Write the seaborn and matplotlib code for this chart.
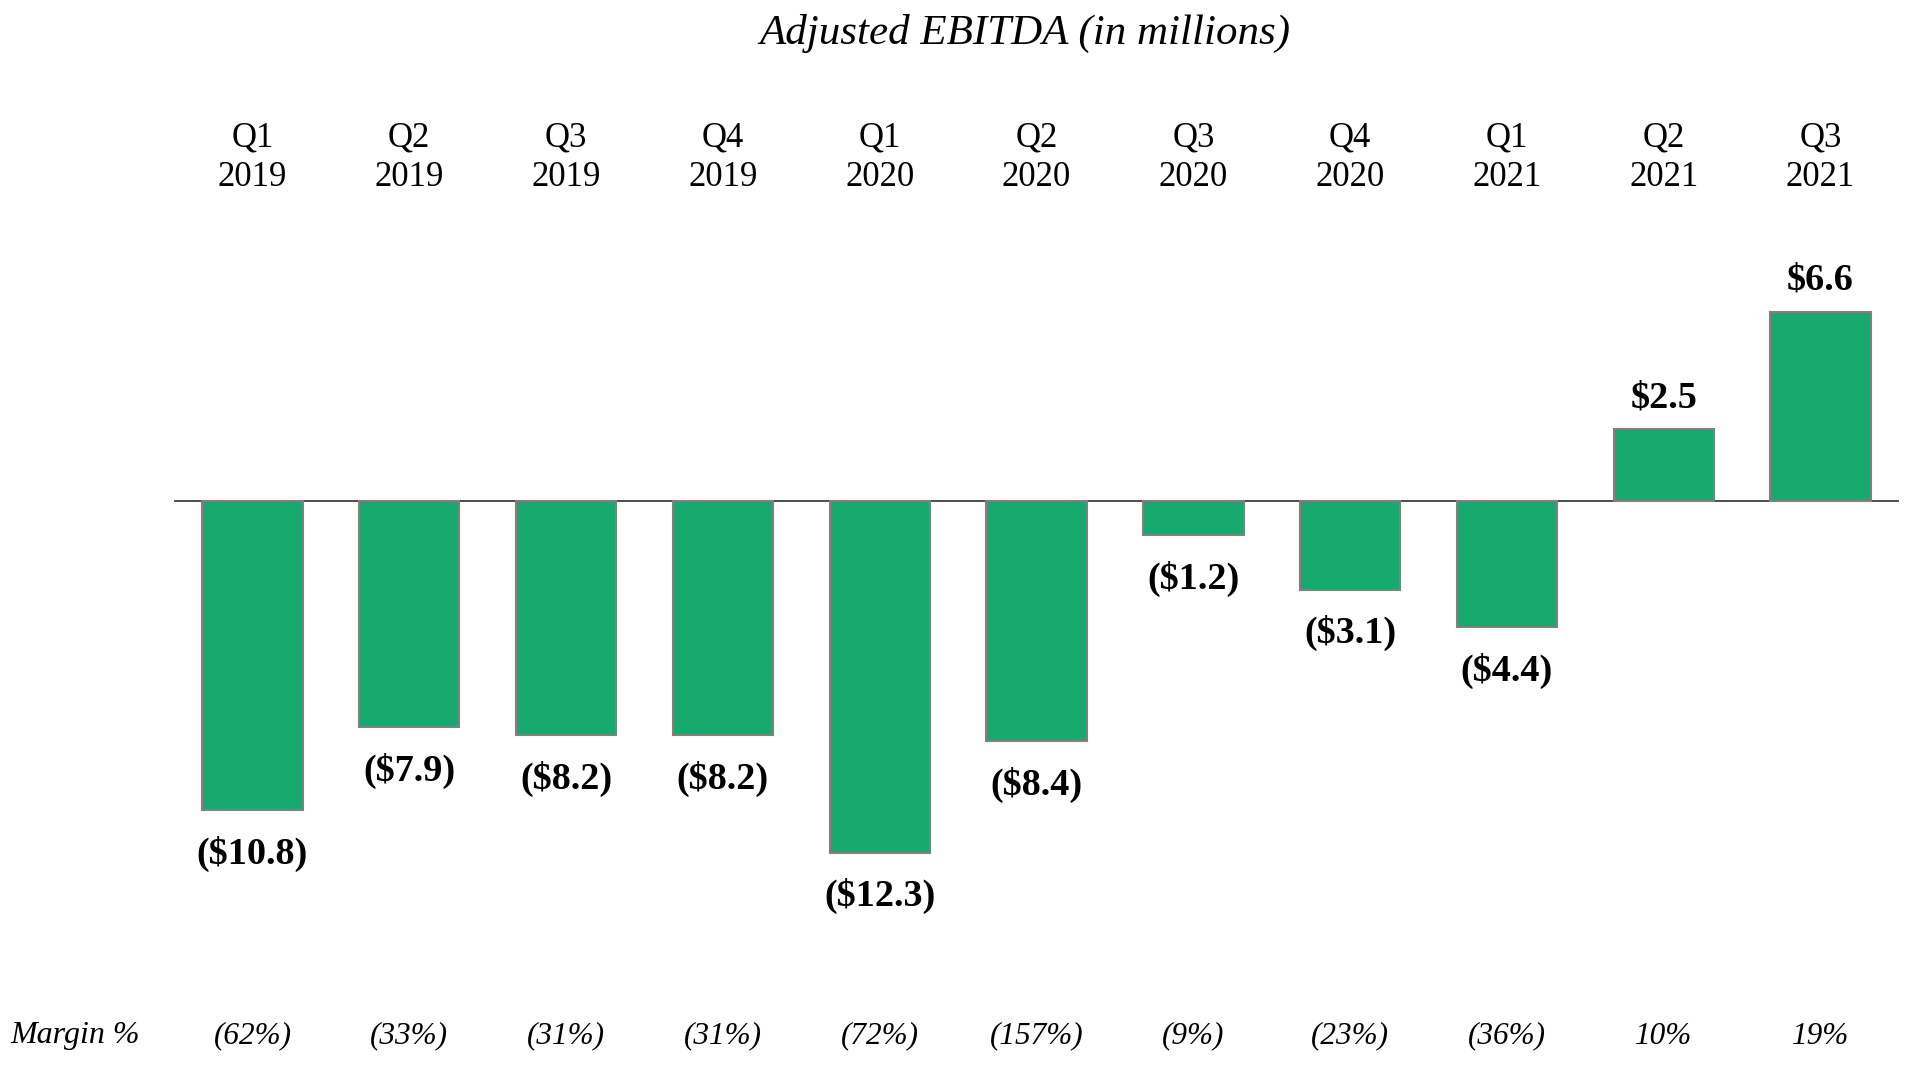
import pandas as pd
import matplotlib
matplotlib.use('Agg')
import matplotlib.pyplot as plt
import matplotlib.transforms as mtransforms
import seaborn as sns

# Chart data
quarters = ['Q1\n2019', 'Q2\n2019', 'Q3\n2019', 'Q4\n2019', 'Q1\n2020', 'Q2\n2020',
            'Q3\n2020', 'Q4\n2020', 'Q1\n2021', 'Q2\n2021', 'Q3\n2021']
ebitda = [-10.8, -7.9, -8.2, -8.2, -12.3, -8.4, -1.2, -3.1, -4.4, 2.5, 6.6]
margins = ['(62%)', '(33%)', '(31%)', '(31%)', '(72%)', '(157%)', '(9%)', '(23%)', '(36%)', '10%', '19%']

df = pd.DataFrame({'quarter': quarters, 'ebitda': ebitda})

sns.set_theme(style="white")
plt.rcParams['font.family'] = ['Liberation Serif', 'DejaVu Serif']
plt.rcParams['text.color'] = 'black'

fig = plt.figure(figsize=(19.06, 10.66), dpi=100)
ax = fig.add_axes([174 / 1906, 0, (1899 - 174) / 1906, 1])

sns.barplot(data=df, x='quarter', y='ebitda', color='#17A96E', saturation=1,
            width=0.64, edgecolor='#808080', linewidth=1.5, ax=ax)

ax.set_xlim(-0.5, len(quarters) - 0.5)
ax.set_ylim(-19.76, 17.52)
ax.axhline(0, color='#404040', linewidth=1.3, zorder=0)
ax.axis('off')

# value labels
for i, v in enumerate(ebitda):
    lab = f"${v:.1f}" if v >= 0 else f"(${abs(v):.1f})"
    off = 23 if v >= 0 else -31.5
    ax.annotate(lab, (i, v), xytext=(0, off), textcoords='offset points',
                ha='center', va='center', fontsize=27.5, fontweight='bold')

# quarter labels and margins
trans = mtransforms.blended_transform_factory(ax.transData, fig.transFigure)
for i, (q, m) in enumerate(zip(quarters, margins)):
    ax.text(i, 1 - 158 / 1066, q, transform=trans, ha='center', va='center',
            fontsize=25, linespacing=1.28)
    ax.text(i, 1 - 1036 / 1066, m, transform=trans, ha='center', va='center',
            fontsize=22.5, style='italic')

fig.text(10 / 1906, 1 - 1036 / 1066, 'Margin %', ha='left', va='center',
         fontsize=23, style='italic')
fig.text(1025 / 1906, 1 - 33 / 1066, 'Adjusted EBITDA (in millions)', ha='center',
         va='center', fontsize=31, style='italic')

fig.savefig('out.png', dpi=100)
